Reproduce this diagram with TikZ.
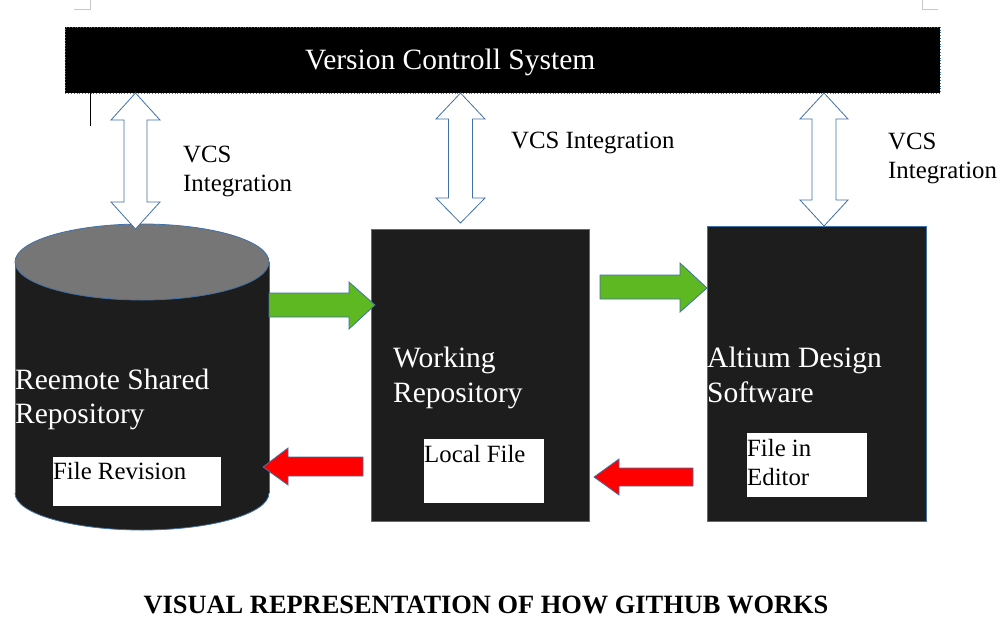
\documentclass[tikz,border=0pt]{standalone}
\usepackage{fontspec}
\setmainfont{Liberation Serif}
\definecolor{vblue}{RGB}{65,113,166}
\definecolor{boxdark}{RGB}{29,29,29}
\definecolor{cyltop}{RGB}{118,118,118}
\definecolor{agreen}{RGB}{94,184,34}
\definecolor{ared}{RGB}{255,0,0}
\definecolor{markgray}{RGB}{200,200,200}
\newcommand{\dblarr}[7]{% cx, top, headbase1, headbase2, bottom, shaft half, head half
  \draw[dblarrow] (#1,#2) -- ({#1+#7},#3) -- ({#1+#6},#3) -- ({#1+#6},#4) -- ({#1+#7},#4)
    -- (#1,#5) -- ({#1-#7},#4) -- ({#1-#6},#4) -- ({#1-#6},#3) -- ({#1-#7},#3) -- cycle;}
\begin{document}
\begin{tikzpicture}[x=1pt,y=-1pt,
  darkbox/.style={draw=vblue, line width=0.8pt, fill=boxdark, inner sep=0pt, anchor=north west},
  whitebox/.style={fill=white, inner sep=0pt, anchor=north west},
  bigtxt/.style={text=white, font=\fontsize{29.5}{35}\selectfont, inner sep=0pt, anchor=base west},
  smalltxt/.style={text=black, font=\fontsize{24.8}{29}\selectfont, inner sep=0pt, anchor=base west},
  dblarrow/.style={draw=vblue, line width=0.8pt, fill=white, line join=miter},
  greenarr/.style={draw=vblue, line width=0.8pt, fill=agreen, line join=miter},
  redarr/.style={draw=vblue, line width=0.8pt, fill=ared, line join=miter},
  cylline/.style={draw=vblue, line width=0.8pt}
]
\useasboundingbox (0,0) rectangle (1001,643);
% page corner marks
\draw[markgray, line width=1pt] (74,9) -- (90,9) -- (90,0);
\draw[markgray, line width=1pt] (922,0) -- (922,9) -- (938,9);
% VCS header
\node[fill=black, draw=vblue, dotted, line width=0.8pt, inner sep=0pt, anchor=north west,
  minimum width=875pt, minimum height=66pt] (vcs) at (65,27) {};
\node[bigtxt] (vcstxt) at (305,69) {Version Controll System};
% text cursor
\draw[black, line width=1pt] (90,83) -- (90,126);
% cylinder
\fill[boxdark] (15,262) rectangle (269,493);
\fill[boxdark] (142,493) ellipse [x radius=127, y radius=37];
\draw[cylline] (15,262) -- (15,493);
\draw[cylline] (269,262) -- (269,493);
\begin{scope}
  \clip (0,493) rectangle (300,540);
  \draw[cylline] (142,493) ellipse [x radius=127, y radius=37];
\end{scope}
\draw[cylline, fill=cyltop] (142,262) ellipse [x radius=127, y radius=38];
\coordinate (cyl) at (142,400);
\node[bigtxt] (rem1) at (15,389) {Reemote Shared};
\node[bigtxt] (rem2) at (15,423) {Repository};
\node[whitebox, minimum width=168pt, minimum height=49pt] (frev) at (53,457) {};
\node[smalltxt] (frevt) at (53,479) {File Revision};
% working repository
\node[darkbox, minimum width=218pt, minimum height=292pt] (work) at (371,229) {};
\node[bigtxt] (work1) at (393,367) {Working};
\node[bigtxt] (work2) at (393,402) {Repository};
\node[whitebox, minimum width=120pt, minimum height=64pt] (lfile) at (424,439) {};
\node[smalltxt] (lfilet) at (424,462) {Local File};
% altium
\node[darkbox, minimum width=219pt, minimum height=295pt] (alt) at (707,226) {};
\node[bigtxt] (alt1) at (707,367) {Altium Design};
\node[bigtxt] (alt2) at (707,402) {Software};
\node[whitebox, minimum width=120pt, minimum height=64pt] (fed) at (747,433) {};
\node[smalltxt] (fed1) at (747,456) {File in};
\node[smalltxt] (fed2) at (747,485) {Editor};
% VCS integration arrows
\dblarr{135.5}{93}{120}{202}{229}{11.5}{24.5}
\dblarr{460.5}{93}{119}{198}{223}{12}{24.5}
\dblarr{824}{93}{119}{200}{226}{12}{24}
\node[smalltxt] (l1a) at (183,162) {VCS};
\node[smalltxt] (l1b) at (183,191) {Integration};
\node[smalltxt] (l2) at (511,148) {VCS Integration};
\node[smalltxt] (l3a) at (888,149) {VCS};
\node[smalltxt] (l3b) at (888,178) {Integration};
% green arrows
\draw[greenarr] (269,293) -- (349,293) -- (349,282) -- (375,305) -- (349,329) -- (349,317) -- (269,317) -- cycle;
\draw[greenarr] (600,275) -- (680,275) -- (680,263) -- (707,288) -- (680,312) -- (680,299) -- (600,299) -- cycle;
% red arrows
\draw[redarr] (363,457) -- (288,457) -- (288,448) -- (263,467) -- (288,485) -- (288,476) -- (363,476) -- cycle;
\draw[redarr] (693,468) -- (619,468) -- (619,459) -- (594,477) -- (619,495) -- (619,486) -- (693,486) -- cycle;
% title
\node[inner sep=0pt, anchor=base, font=\fontsize{26.4}{30}\selectfont\bfseries] (title) at (486,613)
  {VISUAL REPRESENTATION OF HOW GITHUB WORKS};
\end{tikzpicture}
\end{document}
